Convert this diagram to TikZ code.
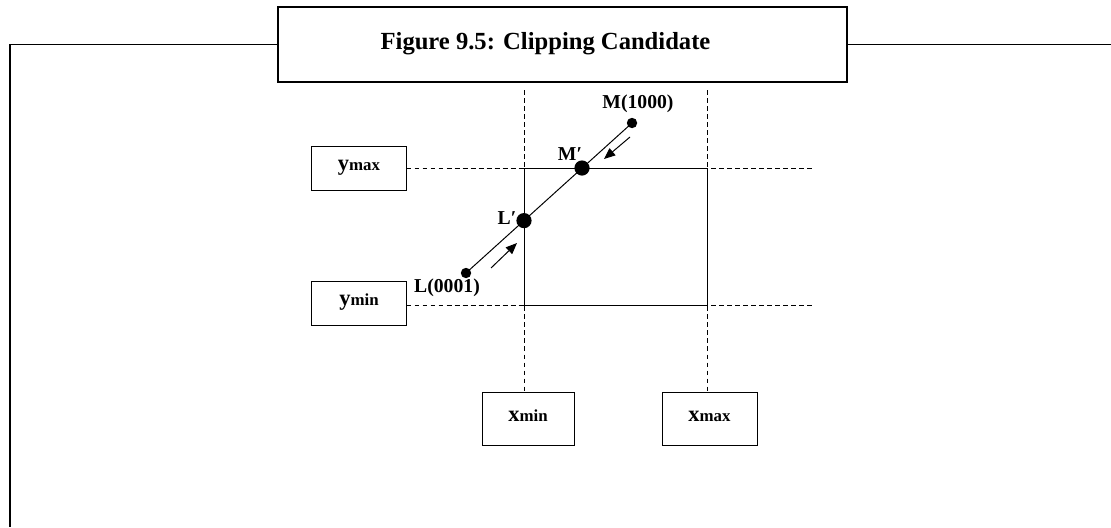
\documentclass[tikz,border=0pt]{standalone}
\usepackage{fontspec}
\setmainfont{Liberation Serif}
\usepackage{tikz}
\usetikzlibrary{arrows.meta, calc}
\newcommand{\bndlabel}[2]{{\fontsize{16}{16}\selectfont #1}{\fontsize{12}{12}\selectfont #2}}
\tikzset{
	tri/.tip={Triangle[length=8pt, width=6.5pt]},
	frame/.style={line width=1.4pt},
	dashed/.style={dash pattern=on 3.5pt off 2.2pt, line width=0.7pt},
	bound/.style={draw, line width=0.7pt, inner sep=0pt, text height=6pt, text depth=2pt, font=\bfseries},
	lab/.style={inner sep=0pt, font=\fontsize{14}{16}\selectfont\bfseries}
}
\begin{document}
\begin{tikzpicture}[x=0.025cm, y=-0.025cm]
	\useasboundingbox (0,0) rectangle (1111,527);
	% Title and frame
	\node[draw, frame, minimum width=14.225cm, minimum height=1.875cm] (title) at (562.5,44.5) {};
	\node[font=\fontsize{17.5}{20}\selectfont\bfseries, inner sep=0pt] (titletext) at ($(title.center)+(-17,-1)$) {Figure 9.5: Clipping Candidate};
	\coordinate (frameR) at (1111,44.5);
	\coordinate (frameL) at (10,44.5);
	\coordinate (frameB) at (10,527);
	\draw[frame] (title.east) -- (frameR);
	\draw[frame] (title.west) -- (frameL) -- (frameB);
	
	% Window corners
	\coordinate (wtl) at (524,168);
	\coordinate (wtr) at (707,168);
	\coordinate (wbl) at (524,305);
	\coordinate (wbr) at (707,305);
	
	% Boundary boxes
	\node[bound, minimum width=2.35cm, minimum height=1.1cm] (ymaxbox) at (359,168) {\bndlabel{y}{max}};
	\node[bound, minimum width=2.35cm, minimum height=1.1cm] (yminbox) at (359,303) {\bndlabel{y}{min}};
	\node[bound, minimum width=2.3cm, minimum height=1.325cm] (xminbox) at (528,418.5) {\bndlabel{x}{min}};
	\node[bound, minimum width=2.375cm, minimum height=1.325cm] (xmaxbox) at (709.5,418.5) {\bndlabel{x}{max}};
	
	% Dashed boundaries
	\coordinate (topL) at (524,90);
	\coordinate (topR) at (707,90);
	\coordinate (endT) at (813,168);
	\coordinate (endB) at (813,305);
	\draw[dashed] (ymaxbox.east |- wtl) -- (endT);
	\draw[dashed] (yminbox.east |- wbl) -- (endB);
	\draw[dashed] (topL) -- (wtl |- xminbox.north);
	\draw[dashed] (topR) -- (wtr |- xmaxbox.north);
	
	% Window
	\draw[line width=0.7pt] (wtl) rectangle (wbr);
	
	% Line and its clipped end points
	\coordinate (ptL) at (466,273);
	\coordinate (ptM) at (632,123);
	\coordinate (ptLc) at (524,220.6);
	\coordinate (ptMc) at (582,168);
	\draw[line width=0.7pt] (ptL) -- (ptM);
	\foreach \p in {ptL, ptM}{\fill (\p) circle (0.13cm);}
	\foreach \p in {ptLc, ptMc}{\fill (\p) circle (0.19cm);}
	
	\node[lab] (labM) at (638,104) {M(1000)};
	\node[lab] (labMc) at (570,154) {M′};
	\node[lab] (labLc) at (507,218) {L′};
	\node[lab] (labL) at (447,288) {L(0001)};
	
	% Direction arrows
	\coordinate (arMa) at (630,137);
	\coordinate (arMb) at (604,159);
	\coordinate (arLa) at (491,268);
	\coordinate (arLb) at (517,243);
	\draw[-tri, line width=0.7pt] (arMa) -- (arMb);
	\draw[-tri, line width=0.7pt] (arLa) -- (arLb);
\end{tikzpicture}
\end{document}
